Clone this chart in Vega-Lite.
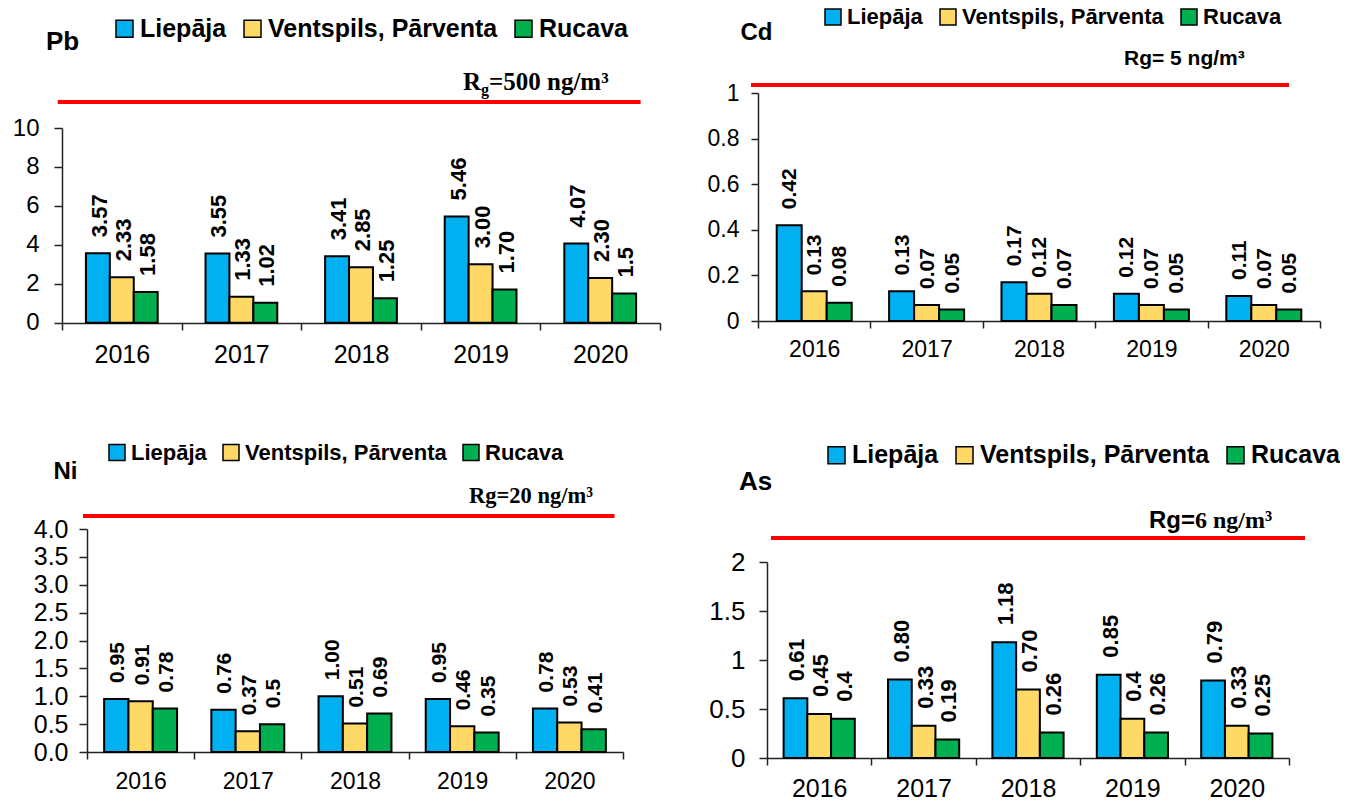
{
"$schema": "https://vega.github.io/schema/vega-lite/v6.json",
"padding": 0,
"background": "white",
"columns": 2,
"spacing": 0,
"align": "each",
"bounds": "flush",
"resolve": {"scale": {"color": "independent", "xOffset": "independent"}, "legend": {"color": "independent"}},
"config": {
  "view": {"stroke": null},
  "font": "Liberation Sans",
  "axis": {"labelColor": "black", "domainColor": "#222", "tickColor": "#222", "domainWidth": 1.5, "tickWidth": 1.5, "labelFont": "Liberation Sans", "grid": false, "titleColor": "black", "titleFont": "Liberation Sans", "titleFontWeight": "bold"},
  "legend": {"direction": "horizontal", "orient": "none", "symbolType": "square", "symbolStrokeColor": "black", "symbolStrokeWidth": 1.5, "labelFontWeight": "bold", "labelColor": "black", "labelFont": "Liberation Sans", "labelOffset": 3, "padding": 0, "symbolOpacity": 1, "labelLimit": 1000}
},
"datasets": {
"d": [
{"m":"Pb","year":"2016","site":"Liepāja","v":3.57,"label":"3.57"},
{"m":"Pb","year":"2016","site":"Ventspils, Pārventa","v":2.33,"label":"2.33"},
{"m":"Pb","year":"2016","site":"Rucava","v":1.58,"label":"1.58"},
{"m":"Pb","year":"2017","site":"Liepāja","v":3.55,"label":"3.55"},
{"m":"Pb","year":"2017","site":"Ventspils, Pārventa","v":1.33,"label":"1.33"},
{"m":"Pb","year":"2017","site":"Rucava","v":1.02,"label":"1.02"},
{"m":"Pb","year":"2018","site":"Liepāja","v":3.41,"label":"3.41"},
{"m":"Pb","year":"2018","site":"Ventspils, Pārventa","v":2.85,"label":"2.85"},
{"m":"Pb","year":"2018","site":"Rucava","v":1.25,"label":"1.25"},
{"m":"Pb","year":"2019","site":"Liepāja","v":5.46,"label":"5.46"},
{"m":"Pb","year":"2019","site":"Ventspils, Pārventa","v":3.00,"label":"3.00"},
{"m":"Pb","year":"2019","site":"Rucava","v":1.70,"label":"1.70"},
{"m":"Pb","year":"2020","site":"Liepāja","v":4.07,"label":"4.07"},
{"m":"Pb","year":"2020","site":"Ventspils, Pārventa","v":2.30,"label":"2.30"},
{"m":"Pb","year":"2020","site":"Rucava","v":1.5,"label":"1.5"},
{"m":"Cd","year":"2016","site":"Liepāja","v":0.42,"label":"0.42"},
{"m":"Cd","year":"2016","site":"Ventspils, Pārventa","v":0.13,"label":"0.13"},
{"m":"Cd","year":"2016","site":"Rucava","v":0.08,"label":"0.08"},
{"m":"Cd","year":"2017","site":"Liepāja","v":0.13,"label":"0.13"},
{"m":"Cd","year":"2017","site":"Ventspils, Pārventa","v":0.07,"label":"0.07"},
{"m":"Cd","year":"2017","site":"Rucava","v":0.05,"label":"0.05"},
{"m":"Cd","year":"2018","site":"Liepāja","v":0.17,"label":"0.17"},
{"m":"Cd","year":"2018","site":"Ventspils, Pārventa","v":0.12,"label":"0.12"},
{"m":"Cd","year":"2018","site":"Rucava","v":0.07,"label":"0.07"},
{"m":"Cd","year":"2019","site":"Liepāja","v":0.12,"label":"0.12"},
{"m":"Cd","year":"2019","site":"Ventspils, Pārventa","v":0.07,"label":"0.07"},
{"m":"Cd","year":"2019","site":"Rucava","v":0.05,"label":"0.05"},
{"m":"Cd","year":"2020","site":"Liepāja","v":0.11,"label":"0.11"},
{"m":"Cd","year":"2020","site":"Ventspils, Pārventa","v":0.07,"label":"0.07"},
{"m":"Cd","year":"2020","site":"Rucava","v":0.05,"label":"0.05"},
{"m":"Ni","year":"2016","site":"Liepāja","v":0.95,"label":"0.95"},
{"m":"Ni","year":"2016","site":"Ventspils, Pārventa","v":0.91,"label":"0.91"},
{"m":"Ni","year":"2016","site":"Rucava","v":0.78,"label":"0.78"},
{"m":"Ni","year":"2017","site":"Liepāja","v":0.76,"label":"0.76"},
{"m":"Ni","year":"2017","site":"Ventspils, Pārventa","v":0.37,"label":"0.37"},
{"m":"Ni","year":"2017","site":"Rucava","v":0.5,"label":"0.5"},
{"m":"Ni","year":"2018","site":"Liepāja","v":1.00,"label":"1.00"},
{"m":"Ni","year":"2018","site":"Ventspils, Pārventa","v":0.51,"label":"0.51"},
{"m":"Ni","year":"2018","site":"Rucava","v":0.69,"label":"0.69"},
{"m":"Ni","year":"2019","site":"Liepāja","v":0.95,"label":"0.95"},
{"m":"Ni","year":"2019","site":"Ventspils, Pārventa","v":0.46,"label":"0.46"},
{"m":"Ni","year":"2019","site":"Rucava","v":0.35,"label":"0.35"},
{"m":"Ni","year":"2020","site":"Liepāja","v":0.78,"label":"0.78"},
{"m":"Ni","year":"2020","site":"Ventspils, Pārventa","v":0.53,"label":"0.53"},
{"m":"Ni","year":"2020","site":"Rucava","v":0.41,"label":"0.41"},
{"m":"As","year":"2016","site":"Liepāja","v":0.61,"label":"0.61"},
{"m":"As","year":"2016","site":"Ventspils, Pārventa","v":0.45,"label":"0.45"},
{"m":"As","year":"2016","site":"Rucava","v":0.4,"label":"0.4"},
{"m":"As","year":"2017","site":"Liepāja","v":0.80,"label":"0.80"},
{"m":"As","year":"2017","site":"Ventspils, Pārventa","v":0.33,"label":"0.33"},
{"m":"As","year":"2017","site":"Rucava","v":0.19,"label":"0.19"},
{"m":"As","year":"2018","site":"Liepāja","v":1.18,"label":"1.18"},
{"m":"As","year":"2018","site":"Ventspils, Pārventa","v":0.70,"label":"0.70"},
{"m":"As","year":"2018","site":"Rucava","v":0.26,"label":"0.26"},
{"m":"As","year":"2019","site":"Liepāja","v":0.85,"label":"0.85"},
{"m":"As","year":"2019","site":"Ventspils, Pārventa","v":0.4,"label":"0.4"},
{"m":"As","year":"2019","site":"Rucava","v":0.26,"label":"0.26"},
{"m":"As","year":"2020","site":"Liepāja","v":0.79,"label":"0.79"},
{"m":"As","year":"2020","site":"Ventspils, Pārventa","v":0.33,"label":"0.33"},
{"m":"As","year":"2020","site":"Rucava","v":0.25,"label":"0.25"}
]
},
"concat": [
{
 "width": 660, "height": 323,
 "layer": [
  {"data": {"name": "d"}, "transform": [{"filter": "datum.m === 'Pb'"}],
   "mark": {"type": "bar", "stroke": "black", "strokeWidth": 2},
   "encoding": {
    "x": {"field": "year", "type": "nominal", "scale": {"range": [62, 660], "paddingInner": 0, "paddingOuter": 0},
          "axis": {"tickBand": "extent", "labelAngle": 0, "title": null, "labelFontSize": 25, "labelPadding": 12, "tickSize": 7}},
    "xOffset": {"field": "site", "type": "nominal", "scale": {"domain": ["Liepāja", "Ventspils, Pārventa", "Rucava"], "paddingInner": 0, "paddingOuter": 1.218}},
    "y": {"field": "v", "type": "quantitative", "scale": {"domain": [0, 10], "nice": false, "range": [322.7, 128]},
          "axis": {"values": [0, 2, 4, 6, 8, 10], "format": "d", "offset": -62, "labelFontSize": 24, "labelPadding": 15, "tickSize": 8,
                   "title": "Pb", "titleAngle": 0, "titleX": 0, "titleY": 41, "titleAlign": "center", "titleBaseline": "middle", "titleFontSize": 26}},
    "color": {"field": "site", "type": "nominal", "scale": {"domain": ["Liepāja", "Ventspils, Pārventa", "Rucava"], "range": ["#00B0F0", "#FFD966", "#00B050"]},
              "legend": {"title": null, "legendX": 112, "legendY": 16, "labelFontSize": 25, "symbolSize": 289, "columnPadding": 13}}
   }},
  {"data": {"name": "d"}, "transform": [{"filter": "datum.m === 'Pb'"}],
   "mark": {"type": "text", "angle": 270, "align": "left", "baseline": "middle", "dx": 16, "dy": 2, "fontSize": 22, "fontWeight": "bold", "color": "black"},
   "encoding": {"x": {"field": "year", "type": "nominal"}, "xOffset": {"field": "site", "type": "nominal"}, "y": {"field": "v", "type": "quantitative"}, "text": {"field": "label"}}},
  {"data": {"values": [{"k": "Rg"}]},
   "mark": {"type": "rule", "color": "#FF0000", "strokeWidth": 4},
   "encoding": {"x": {"datum": "2016", "bandPosition": -0.036}, "x2": {"datum": "2020", "bandPosition": 0.838}, "y": {"datum": 11.34}}},
  {"data": {"values": [{"k": "Rg"}]},
   "mark": {"type": "text", "text": "R", "align": "left", "baseline": "alphabetic", "font": "Liberation Serif", "fontWeight": "bold", "fontSize": 25, "color": "black"},
   "encoding": {"x": {"datum": "2019", "bandPosition": 0.353}, "y": {"datum": 11.95}}},
  {"data": {"values": [{"k": "Rg"}]},
   "mark": {"type": "text", "text": "g", "align": "left", "baseline": "alphabetic", "dx": 18, "dy": 5, "font": "Liberation Serif", "fontWeight": "bold", "fontSize": 16, "color": "black"},
   "encoding": {"x": {"datum": "2019", "bandPosition": 0.353}, "y": {"datum": 11.95}}},
  {"data": {"values": [{"k": "Rg"}]},
   "mark": {"type": "text", "text": "=500 ng/m³", "align": "left", "baseline": "alphabetic", "dx": 26, "font": "Liberation Serif", "fontWeight": "bold", "fontSize": 25, "color": "black"},
   "encoding": {"x": {"datum": "2019", "bandPosition": 0.353}, "y": {"datum": 11.95}}}
 ]
},
{
 "width": 660, "height": 321,
 "layer": [
  {"data": {"name": "d"}, "transform": [{"filter": "datum.m === 'Cd'"}],
   "mark": {"type": "bar", "stroke": "black", "strokeWidth": 2},
   "encoding": {
    "x": {"field": "year", "type": "nominal", "scale": {"range": [98, 660], "paddingInner": 0, "paddingOuter": 0},
          "axis": {"tickBand": "extent", "labelAngle": 0, "title": null, "labelFontSize": 23, "labelPadding": 10, "tickSize": 7}},
    "xOffset": {"field": "site", "type": "nominal", "scale": {"domain": ["Liepāja", "Ventspils, Pārventa", "Rucava"], "paddingInner": 0, "paddingOuter": 0.748}},
    "y": {"field": "v", "type": "quantitative", "scale": {"domain": [0, 1], "nice": false, "range": [321, 93]},
          "axis": {"values": [0, 0.2, 0.4, 0.6, 0.8, 1], "format": "~g", "offset": -98, "labelFontSize": 23, "labelPadding": 12, "tickSize": 7,
                   "title": "Cd", "titleAngle": 0, "titleX": -2, "titleY": 32, "titleAlign": "center", "titleBaseline": "middle", "titleFontSize": 24}},
    "color": {"field": "site", "type": "nominal", "scale": {"domain": ["Liepāja", "Ventspils, Pārventa", "Rucava"], "range": ["#00B0F0", "#FFD966", "#00B050"]},
              "legend": {"title": null, "legendX": 162, "legendY": 6, "labelFontSize": 22, "symbolSize": 256, "columnPadding": 14}}
   }},
  {"data": {"name": "d"}, "transform": [{"filter": "datum.m === 'Cd'"}],
   "mark": {"type": "text", "angle": 270, "align": "left", "baseline": "middle", "dx": 16, "dy": 1, "fontSize": 21, "fontWeight": "bold", "color": "black"},
   "encoding": {"x": {"field": "year", "type": "nominal"}, "xOffset": {"field": "site", "type": "nominal"}, "y": {"field": "v", "type": "quantitative"}, "text": {"field": "label"}}},
  {"data": {"values": [{"k": "Rg"}]},
   "mark": {"type": "rule", "color": "#FF0000", "strokeWidth": 4},
   "encoding": {"x": {"datum": "2016", "bandPosition": -0.062}, "x2": {"datum": "2020", "bandPosition": 0.724}, "y": {"datum": 1.035}}},
  {"data": {"values": [{"k": "Rg"}]},
   "mark": {"type": "text", "text": "Rg= 5 ng/m³", "align": "left", "baseline": "alphabetic", "fontWeight": "bold", "fontSize": 21, "color": "black"},
   "encoding": {"x": {"datum": "2019", "bandPosition": 0.256}, "y": {"datum": 1.123}}}
 ]
},
{
 "width": 623, "height": 429,
 "layer": [
  {"data": {"name": "d"}, "transform": [{"filter": "datum.m === 'Ni'"}],
   "mark": {"type": "bar", "stroke": "black", "strokeWidth": 2},
   "encoding": {
    "x": {"field": "year", "type": "nominal", "scale": {"range": [87, 623], "paddingInner": 0, "paddingOuter": 0},
          "axis": {"tickBand": "extent", "labelAngle": 0, "title": null, "labelFontSize": 23, "labelPadding": 11, "tickSize": 7}},
    "xOffset": {"field": "site", "type": "nominal", "scale": {"domain": ["Liepāja", "Ventspils, Pārventa", "Rucava"], "paddingInner": 0, "paddingOuter": 0.705}},
    "y": {"field": "v", "type": "quantitative", "scale": {"domain": [0, 4], "nice": false, "range": [429, 206]},
          "axis": {"values": [0, 0.5, 1, 1.5, 2, 2.5, 3, 3.5, 4], "format": ".1f", "offset": -87, "labelFontSize": 25, "labelPadding": 11, "tickSize": 8,
                   "title": "Ni", "titleAngle": 0, "titleX": -22, "titleY": 148.5, "titleAlign": "center", "titleBaseline": "middle", "titleFontSize": 24}},
    "color": {"field": "site", "type": "nominal", "scale": {"domain": ["Liepāja", "Ventspils, Pārventa", "Rucava"], "range": ["#00B0F0", "#FFD966", "#00B050"]},
              "legend": {"title": null, "legendX": 106, "legendY": 118.5, "labelFontSize": 22, "symbolSize": 256, "columnPadding": 13}}
   }},
  {"data": {"name": "d"}, "transform": [{"filter": "datum.m === 'Ni'"}],
   "mark": {"type": "text", "angle": 270, "align": "left", "baseline": "middle", "dx": 16, "dy": 2, "fontSize": 21, "fontWeight": "bold", "color": "black"},
   "encoding": {"x": {"field": "year", "type": "nominal"}, "xOffset": {"field": "site", "type": "nominal"}, "y": {"field": "v", "type": "quantitative"}, "text": {"field": "label"}}},
  {"data": {"values": [{"k": "Rg"}]},
   "mark": {"type": "rule", "color": "#FF0000", "strokeWidth": 4},
   "encoding": {"x": {"datum": "2016", "bandPosition": -0.037}, "x2": {"datum": "2020", "bandPosition": 0.921}, "y": {"datum": 4.233}}},
  {"data": {"values": [{"k": "Rg"}]},
   "mark": {"type": "text", "text": "Rg=20 ng/m³", "align": "left", "baseline": "alphabetic", "font": "Liberation Serif", "fontWeight": "bold", "fontSize": 22.5, "color": "black"},
   "encoding": {"x": {"datum": "2019", "bandPosition": 0.563}, "y": {"datum": 4.466}}}
 ]
},
{
 "width": 629, "height": 435,
 "layer": [
  {"data": {"name": "d"}, "transform": [{"filter": "datum.m === 'As'"}],
   "mark": {"type": "bar", "stroke": "black", "strokeWidth": 2},
   "encoding": {
    "x": {"field": "year", "type": "nominal", "scale": {"range": [107, 629], "paddingInner": 0, "paddingOuter": 0},
          "axis": {"tickBand": "extent", "labelAngle": 0, "title": null, "labelFontSize": 25, "labelPadding": 11, "tickSize": 7}},
    "xOffset": {"field": "site", "type": "nominal", "scale": {"domain": ["Liepāja", "Ventspils, Pārventa", "Rucava"], "paddingInner": 0, "paddingOuter": 0.70}},
    "y": {"field": "v", "type": "quantitative", "scale": {"domain": [0, 2], "nice": false, "range": [435, 239]},
          "axis": {"values": [0, 0.5, 1, 1.5, 2], "format": "~g", "offset": -107, "labelFontSize": 26, "labelPadding": 14, "tickSize": 8,
                   "title": "As", "titleAngle": 0, "titleX": -12, "titleY": 158.5, "titleAlign": "center", "titleBaseline": "middle", "titleFontSize": 26}},
    "color": {"field": "site", "type": "nominal", "scale": {"domain": ["Liepāja", "Ventspils, Pārventa", "Rucava"], "range": ["#00B0F0", "#FFD966", "#00B050"]},
              "legend": {"title": null, "legendX": 164, "legendY": 119.5, "labelFontSize": 25, "symbolSize": 289, "columnPadding": 13}}
   }},
  {"data": {"name": "d"}, "transform": [{"filter": "datum.m === 'As'"}],
   "mark": {"type": "text", "angle": 270, "align": "left", "baseline": "middle", "dx": 17, "dy": 2, "fontSize": 22, "fontWeight": "bold", "color": "black"},
   "encoding": {"x": {"field": "year", "type": "nominal"}, "xOffset": {"field": "site", "type": "nominal"}, "y": {"field": "v", "type": "quantitative"}, "text": {"field": "label"}}},
  {"data": {"values": [{"k": "Rg"}]},
   "mark": {"type": "rule", "color": "#FF0000", "strokeWidth": 4},
   "encoding": {"x": {"datum": "2016", "bandPosition": 0.038}, "x2": {"datum": "2020", "bandPosition": 1.153}, "y": {"datum": 2.245}}},
  {"data": {"values": [{"k": "Rg"}]},
   "mark": {"type": "text", "text": "Rg=", "align": "left", "baseline": "alphabetic", "fontWeight": "bold", "fontSize": 24, "color": "black"},
   "encoding": {"x": {"datum": "2019", "bandPosition": 0.659}, "y": {"datum": 2.347}}},
  {"data": {"values": [{"k": "Rg"}]},
   "mark": {"type": "text", "text": "6 ng/m³", "align": "left", "baseline": "alphabetic", "dx": 46, "font": "Liberation Serif", "fontWeight": "bold", "fontSize": 24, "color": "black"},
   "encoding": {"x": {"datum": "2019", "bandPosition": 0.659}, "y": {"datum": 2.347}}}
 ]
}
]
}
